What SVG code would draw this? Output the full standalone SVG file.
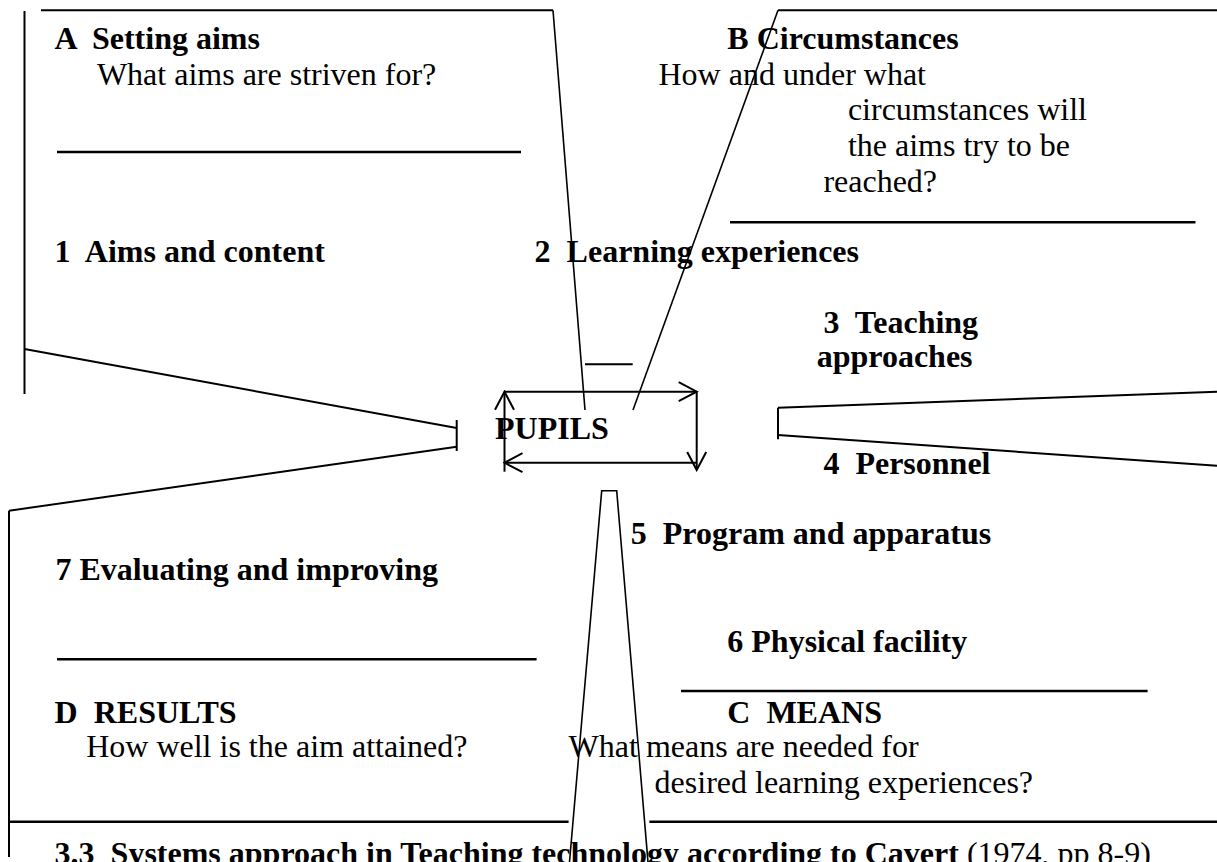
<svg xmlns="http://www.w3.org/2000/svg" width="1217" height="862" viewBox="0 0 1217 862">
<style>
  text { font-family: "Liberation Serif", "Times New Roman", serif; font-size: 32px; fill: #000; }
  .b { font-weight: bold; }
  .ln { stroke: #000; stroke-width: 2; fill: none; }
  .thin { stroke: #000; stroke-width: 1.6; fill: none; }
  .div { stroke: #000; stroke-width: 2.4; fill: none; }
</style>
<defs>
  <marker id="arr" markerUnits="userSpaceOnUse" markerWidth="22" markerHeight="22" viewBox="0 0 22 22" refX="20" refY="11" orient="auto">
    <path d="M2,1.5 L20,11 L2,20.5" fill="none" stroke="#000" stroke-width="2"/>
  </marker>
</defs>
<rect width="1217" height="862" fill="#fff"/>

<g id="sectionA">
  <text class="b" x="54.6" y="49.3" xml:space="preserve">A  Setting aims</text>
  <text x="96.9" y="85">What aims are striven for?</text>
  <line class="div" x1="57" y1="152" x2="521" y2="152"/>
</g>

<g id="sectionB">
  <text class="b" x="727.3" y="49.3">B Circumstances</text>
  <text x="658.5" y="85">How and under what</text>
  <text x="847.9" y="120">circumstances will</text>
  <text x="847.9" y="156">the aims try to be</text>
  <text x="823.4" y="192">reached?</text>
  <line class="div" x1="730" y1="222.3" x2="1195.5" y2="222.3"/>
</g>

<g id="label1"><text class="b" x="54.6" y="261.7" xml:space="preserve">1  Aims and content</text></g>
<g id="label2"><text class="b" x="534.6" y="261.7" xml:space="preserve">2  Learning experiences</text></g>
<g id="label3">
  <text class="b" x="823.4" y="332.7" xml:space="preserve">3  Teaching</text>
  <text class="b" x="816.7" y="366.7">approaches</text>
</g>
<g id="label4"><text class="b" x="823.4" y="474" xml:space="preserve">4  Personnel</text></g>
<g id="label5"><text class="b" x="630.8" y="544" xml:space="preserve">5  Program and apparatus</text></g>
<g id="label6"><text class="b" x="727.3" y="651.7">6 Physical facility</text></g>
<g id="label7"><text class="b" x="55.4" y="580">7 Evaluating and improving</text></g>

<g id="pupils">
  <text class="b" x="495" y="439">PUPILS</text>
  <line class="ln" x1="504.5" y1="471.7" x2="504.5" y2="391.7" marker-end="url(#arr)"/>
  <line class="ln" x1="504.5" y1="391.7" x2="696.7" y2="391.7" marker-end="url(#arr)"/>
  <line class="ln" x1="696.7" y1="391.7" x2="696.7" y2="470" marker-end="url(#arr)"/>
  <line class="ln" x1="696.7" y1="462.7" x2="504.5" y2="462.7" marker-end="url(#arr)"/>
</g>

<g id="sectionD">
  <line class="div" x1="57" y1="659.3" x2="536.6" y2="659.3"/>
  <text class="b" x="54.6" y="722.7" xml:space="preserve">D  RESULTS</text>
  <text x="86.2" y="756.7">How well is the aim attained?</text>
</g>

<g id="sectionC">
  <line class="div" x1="681" y1="691" x2="1147.6" y2="691"/>
  <text class="b" x="727.3" y="722.7" xml:space="preserve">C  MEANS</text>
  <text x="568.6" y="756.7">What means are needed for</text>
  <text x="654.6" y="793.3">desired learning experiences?</text>
</g>

<g id="connectors">
  <line class="ln" x1="24.5" y1="11" x2="24.5" y2="394"/>
  <line class="ln" x1="41" y1="10.3" x2="553" y2="10.3"/>
  <line class="thin" x1="553" y1="10.3" x2="585" y2="410"/>
  <polyline class="thin" points="633,410 778,10.3"/>
  <line class="ln" x1="778" y1="10.3" x2="1217" y2="10.3"/>
  <line class="ln" x1="585" y1="364.3" x2="632.7" y2="364.3"/>
  <line class="ln" x1="24.5" y1="349" x2="456.7" y2="428"/>
  <line class="ln" x1="456.7" y1="420" x2="456.7" y2="451"/>
  <line class="ln" x1="456.7" y1="446.7" x2="9" y2="510.7"/>
  <line class="ln" x1="9" y1="510.7" x2="9" y2="857"/>
  <line class="ln" x1="1217" y1="391.7" x2="778" y2="407.7"/>
  <line class="ln" x1="778" y1="407.7" x2="778" y2="439.3"/>
  <line class="ln" x1="778" y1="435" x2="1217" y2="465.7"/>
  <polyline class="thin" points="569.5,862 601.7,490.7 616.7,490.7 648,862"/>
  <line class="div" x1="9" y1="821.7" x2="568.6" y2="821.7"/>
  <line class="div" x1="649.4" y1="821.7" x2="1217" y2="821.7"/>
</g>

<g id="caption">
  <text x="54.6" y="864"><tspan class="b" xml:space="preserve">3.3  Systems approach in Teaching technology according to Cavert</tspan> (1974, pp 8-9)</text>
</g>
</svg>
